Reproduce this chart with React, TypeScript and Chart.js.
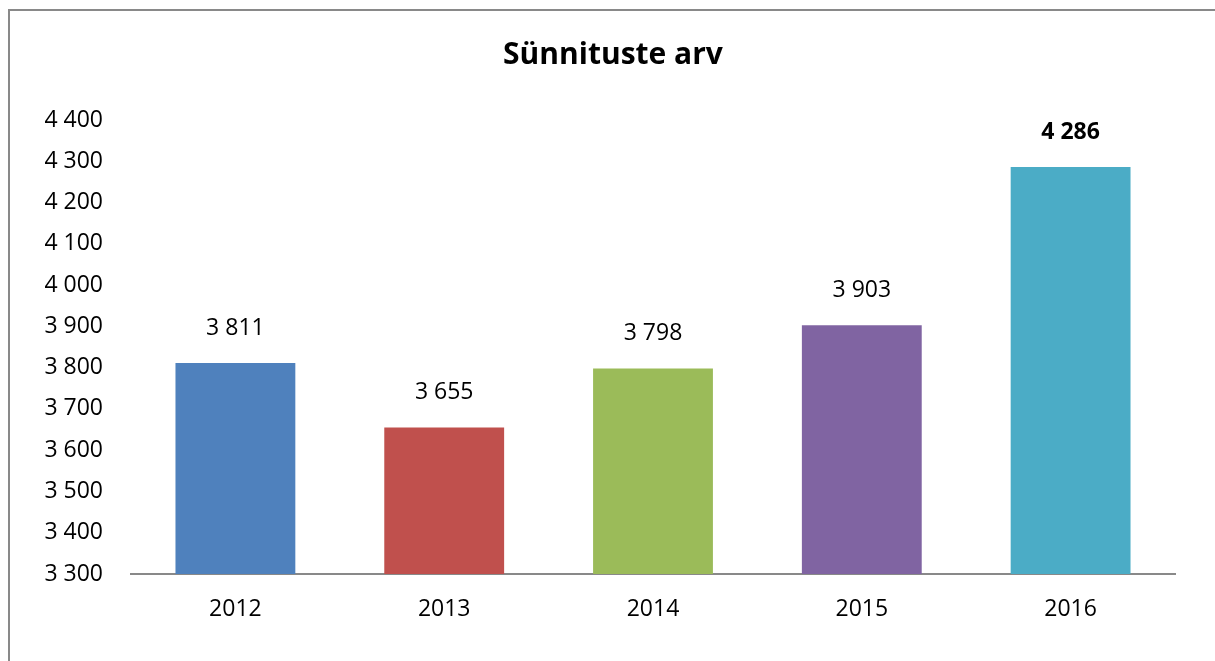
import React, { useEffect, useRef } from "react";
import { Chart, registerables } from "chart.js";

Chart.register(...registerables);

const TITLE = "Sünnituste arv";
const categories = ["2012", "2013", "2014", "2015", "2016"];
const values = [3811, 3655, 3798, 3903, 4286];
const barColors = ["#4F81BD", "#C0504D", "#9BBB59", "#8064A2", "#4BACC6"];
const boldLabel = [false, false, false, false, true];
const yMin = 3300;
const yMax = 4400;
const yStep = 100;

const FONT = "'Open Sans', sans-serif";

const fmt = (v: number) => {
  const s = Math.round(v).toString();
  return s.replace(/\B(?=(\d{3})+(?!\d))/g, " ");
};

const decorPlugin = {
  id: "decor",
  afterDraw(chart: any) {
    const ctx = chart.ctx;
    ctx.save();
    // frame
    ctx.strokeStyle = "#898989";
    ctx.lineWidth = 2;
    ctx.beginPath();
    ctx.moveTo(9, 661);
    ctx.lineTo(9, 10);
    ctx.lineTo(1215, 10);
    ctx.stroke();
    // title
    ctx.fillStyle = "#000";
    ctx.font = `bold 30px ${FONT}`;
    ctx.textAlign = "center";
    ctx.textBaseline = "middle";
    ctx.fillText(TITLE, 613, 55);
    // value labels
    const meta = chart.getDatasetMeta(0);
    meta.data.forEach((bar: any, i: number) => {
      ctx.font = `${boldLabel[i] ? "bold " : ""}23px ${FONT}`;
      ctx.fillText(fmt(values[i]), bar.x, bar.y - 35);
    });
    ctx.restore();
  },
};

export default function App() {
  const ref = useRef<HTMLCanvasElement | null>(null);
  useEffect(() => {
    if (!ref.current) return;
    const chart = new Chart(ref.current, {
      type: "bar",
      data: {
        labels: categories,
        datasets: [
          {
            data: values,
            backgroundColor: barColors,
            borderWidth: 0,
            categoryPercentage: 1,
            barPercentage: 0.574,
          },
        ],
      },
      options: {
        responsive: false,
        animation: false,
        layout: { padding: { left: 0, right: 40, top: 120, bottom: 0 } },
        plugins: {
          legend: { display: false },
          title: { display: false },
          tooltip: { enabled: false },
        },
        scales: {
          x: {
            grid: { display: false, drawTicks: false },
            border: { display: true, color: "#898989", width: 2 },
            ticks: { color: "#000", font: { family: FONT, size: 23 }, padding: 22 },
            afterFit: (s: any) => {
              s.height = 661 - 574;
            },
          },
          y: {
            min: yMin,
            max: yMax,
            grid: { display: false, drawTicks: false },
            border: { display: false },
            ticks: {
              stepSize: yStep,
              color: "#000",
              font: { family: FONT, size: 23 },
              padding: 28,
              callback: (v: any) => fmt(Number(v)),
            },
            afterFit: (s: any) => {
              s.width = 131;
            },
          },
        },
      },
      plugins: [decorPlugin],
    });
    return () => chart.destroy();
  }, []);
  return (
    <div style={{ position: "absolute", left: 0, top: 0, width: 1215, height: 661, background: "#fff" }}>
      <canvas ref={ref} width={1215} height={661} />
    </div>
  );
}
